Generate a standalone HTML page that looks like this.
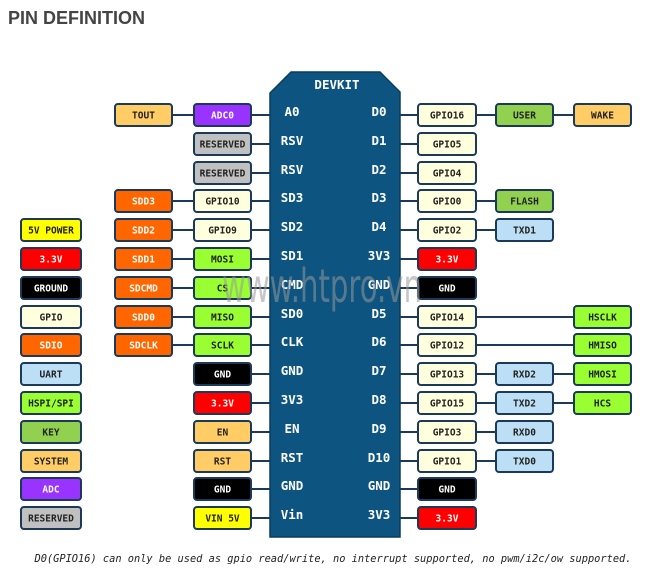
<!DOCTYPE html>
<html><head><meta charset="utf-8"><style>
html,body{margin:0;padding:0;background:#fff;width:653px;height:580px;overflow:hidden}
svg{display:block}
.b{stroke:#1b3a5a;stroke-width:2}
.t{font-family:"DejaVu Sans Mono","Liberation Mono",monospace;font-weight:bold;font-size:9.5px;text-anchor:middle;fill:#222}
.w{fill:#fff}
.p{font-family:"DejaVu Sans Mono","Liberation Mono",monospace;font-weight:bold;font-size:12.5px;text-anchor:middle;fill:#fff}
.l{stroke:#1b3a5a;stroke-width:2}
</style></head><body>
<svg width="653" height="580" viewBox="0 0 653 580" xmlns="http://www.w3.org/2000/svg">
<text x="8" y="24" font-family="Liberation Sans, sans-serif" font-weight="bold" font-size="18" fill="#444">PIN DEFINITION</text>
<polygon points="270,93 291,72 380,72 400,92 400,537 270,537" fill="#0d5580" stroke="#0a3d5e" stroke-width="1.5"/>
<text x="337" y="89" class="p" font-size="11">DEVKIT</text>

<!-- left connector lines -->
<g class="l">
<line x1="251" y1="115" x2="270" y2="115"/><line x1="172" y1="115" x2="194" y2="115"/>
<line x1="251" y1="144" x2="270" y2="144"/>
<line x1="251" y1="173" x2="270" y2="173"/>
<line x1="251" y1="201" x2="270" y2="201"/><line x1="172" y1="201" x2="194" y2="201"/>
<line x1="251" y1="230" x2="270" y2="230"/><line x1="172" y1="230" x2="194" y2="230"/>
<line x1="251" y1="259" x2="270" y2="259"/><line x1="172" y1="259" x2="194" y2="259"/>
<line x1="251" y1="288" x2="270" y2="288"/><line x1="172" y1="288" x2="194" y2="288"/>
<line x1="251" y1="317" x2="270" y2="317"/><line x1="172" y1="317" x2="194" y2="317"/>
<line x1="251" y1="345" x2="270" y2="345"/><line x1="172" y1="345" x2="194" y2="345"/>
<line x1="251" y1="374" x2="270" y2="374"/>
<line x1="251" y1="403" x2="270" y2="403"/>
<line x1="251" y1="432" x2="270" y2="432"/>
<line x1="251" y1="461" x2="270" y2="461"/>
<line x1="251" y1="489" x2="270" y2="489"/>
<line x1="251" y1="518" x2="270" y2="518"/>
<!-- right -->
<line x1="400" y1="115" x2="418" y2="115"/><line x1="476" y1="115" x2="574" y2="115"/>
<line x1="400" y1="144" x2="418" y2="144"/>
<line x1="400" y1="173" x2="418" y2="173"/>
<line x1="400" y1="201" x2="418" y2="201"/><line x1="476" y1="201" x2="496" y2="201"/>
<line x1="400" y1="230" x2="418" y2="230"/><line x1="476" y1="230" x2="496" y2="230"/>
<line x1="400" y1="259" x2="418" y2="259"/>
<line x1="400" y1="288" x2="418" y2="288"/>
<line x1="400" y1="317" x2="418" y2="317"/><line x1="476" y1="317" x2="574" y2="317"/>
<line x1="400" y1="345" x2="418" y2="345"/><line x1="476" y1="345" x2="574" y2="345"/>
<line x1="400" y1="374" x2="418" y2="374"/><line x1="476" y1="374" x2="574" y2="374"/>
<line x1="400" y1="403" x2="418" y2="403"/><line x1="476" y1="403" x2="574" y2="403"/>
<line x1="400" y1="432" x2="418" y2="432"/><line x1="476" y1="432" x2="496" y2="432"/>
<line x1="400" y1="461" x2="418" y2="461"/><line x1="476" y1="461" x2="496" y2="461"/>
<line x1="400" y1="489" x2="418" y2="489"/>
<line x1="400" y1="518" x2="418" y2="518"/>
</g>

<!-- board pin labels -->
<g class="p">
<text x="292" y="116">A0</text><text x="379" y="116">D0</text>
<text x="292" y="145">RSV</text><text x="379" y="145">D1</text>
<text x="292" y="174">RSV</text><text x="379" y="174">D2</text>
<text x="292" y="202">SD3</text><text x="379" y="202">D3</text>
<text x="292" y="231">SD2</text><text x="379" y="231">D4</text>
<text x="292" y="260">SD1</text><text x="379" y="260">3V3</text>
<text x="292" y="289">CMD</text><text x="379" y="289">GND</text>
<text x="292" y="318">SD0</text><text x="379" y="318">D5</text>
<text x="292" y="346">CLK</text><text x="379" y="346">D6</text>
<text x="292" y="375">GND</text><text x="379" y="375">D7</text>
<text x="292" y="404">3V3</text><text x="379" y="404">D8</text>
<text x="292" y="433">EN</text><text x="379" y="433">D9</text>
<text x="292" y="462">RST</text><text x="379" y="462">D10</text>
<text x="292" y="490">GND</text><text x="379" y="490">GND</text>
<text x="292" y="519">Vin</text><text x="379" y="519">3V3</text>
</g>

<!-- boxes: helper pattern rect(x, yc-11, 57, 22) -->
<g class="b">
<!-- legend x=21 -->
<rect x="21" y="219" width="60" height="22" rx="3" fill="#ffff00"/>
<rect x="21" y="248" width="60" height="22" rx="3" fill="#ff0000"/>
<rect x="21" y="277" width="60" height="22" rx="3" fill="#000"/>
<rect x="21" y="306" width="60" height="22" rx="3" fill="#ffffdd"/>
<rect x="21" y="334" width="60" height="22" rx="3" fill="#ff6600"/>
<rect x="21" y="363" width="60" height="22" rx="3" fill="#bcdff5"/>
<rect x="21" y="392" width="60" height="22" rx="3" fill="#99ff33"/>
<rect x="21" y="421" width="60" height="22" rx="3" fill="#92d050"/>
<rect x="21" y="450" width="60" height="22" rx="3" fill="#ffcc66"/>
<rect x="21" y="478" width="60" height="22" rx="3" fill="#9933ff"/>
<rect x="21" y="507" width="60" height="22" rx="3" fill="#c0c0c0"/>
<!-- col A x=115 -->
<rect x="115" y="104" width="57" height="22" rx="3" fill="#ffcc66"/>
<rect x="115" y="190" width="57" height="22" rx="3" fill="#ff6600"/>
<rect x="115" y="219" width="57" height="22" rx="3" fill="#ff6600"/>
<rect x="115" y="248" width="57" height="22" rx="3" fill="#ff6600"/>
<rect x="115" y="277" width="57" height="22" rx="3" fill="#ff6600"/>
<rect x="115" y="306" width="57" height="22" rx="3" fill="#ff6600"/>
<rect x="115" y="334" width="57" height="22" rx="3" fill="#ff6600"/>
<!-- col B x=194 -->
<rect x="194" y="104" width="57" height="22" rx="3" fill="#9933ff"/>
<rect x="194" y="133" width="57" height="22" rx="3" fill="#c0c0c0"/>
<rect x="194" y="162" width="57" height="22" rx="3" fill="#c0c0c0"/>
<rect x="194" y="190" width="57" height="22" rx="3" fill="#ffffdd"/>
<rect x="194" y="219" width="57" height="22" rx="3" fill="#ffffdd"/>
<rect x="194" y="248" width="57" height="22" rx="3" fill="#99ff33"/>
<rect x="194" y="277" width="57" height="22" rx="3" fill="#99ff33"/>
<rect x="194" y="306" width="57" height="22" rx="3" fill="#99ff33"/>
<rect x="194" y="334" width="57" height="22" rx="3" fill="#99ff33"/>
<rect x="194" y="363" width="57" height="22" rx="3" fill="#000"/>
<rect x="194" y="392" width="57" height="22" rx="3" fill="#ff0000"/>
<rect x="194" y="421" width="57" height="22" rx="3" fill="#ffcc66"/>
<rect x="194" y="450" width="57" height="22" rx="3" fill="#ffcc66"/>
<rect x="194" y="478" width="57" height="22" rx="3" fill="#000"/>
<rect x="194" y="507" width="57" height="22" rx="3" fill="#ffff00"/>
<!-- right col1 x=418 -->
<rect x="418" y="104" width="58" height="22" rx="3" fill="#ffffdd"/>
<rect x="418" y="133" width="58" height="22" rx="3" fill="#ffffdd"/>
<rect x="418" y="162" width="58" height="22" rx="3" fill="#ffffdd"/>
<rect x="418" y="190" width="58" height="22" rx="3" fill="#ffffdd"/>
<rect x="418" y="219" width="58" height="22" rx="3" fill="#ffffdd"/>
<rect x="418" y="248" width="58" height="22" rx="3" fill="#ff0000"/>
<rect x="418" y="277" width="58" height="22" rx="3" fill="#000"/>
<rect x="418" y="306" width="58" height="22" rx="3" fill="#ffffdd"/>
<rect x="418" y="334" width="58" height="22" rx="3" fill="#ffffdd"/>
<rect x="418" y="363" width="58" height="22" rx="3" fill="#ffffdd"/>
<rect x="418" y="392" width="58" height="22" rx="3" fill="#ffffdd"/>
<rect x="418" y="421" width="58" height="22" rx="3" fill="#ffffdd"/>
<rect x="418" y="450" width="58" height="22" rx="3" fill="#ffffdd"/>
<rect x="418" y="478" width="58" height="22" rx="3" fill="#000"/>
<rect x="418" y="507" width="58" height="22" rx="3" fill="#ff0000"/>
<!-- col2 x=496 -->
<rect x="496" y="104" width="57" height="22" rx="3" fill="#92d050"/>
<rect x="496" y="190" width="57" height="22" rx="3" fill="#92d050"/>
<rect x="496" y="219" width="57" height="22" rx="3" fill="#bcdff5"/>
<rect x="496" y="363" width="57" height="22" rx="3" fill="#bcdff5"/>
<rect x="496" y="392" width="57" height="22" rx="3" fill="#bcdff5"/>
<rect x="496" y="421" width="57" height="22" rx="3" fill="#bcdff5"/>
<rect x="496" y="450" width="57" height="22" rx="3" fill="#bcdff5"/>
<!-- col3 x=574 -->
<rect x="574" y="104" width="57" height="22" rx="3" fill="#ffcc66"/>
<rect x="574" y="306" width="57" height="22" rx="3" fill="#99ff33"/>
<rect x="574" y="334" width="57" height="22" rx="3" fill="#99ff33"/>
<rect x="574" y="363" width="57" height="22" rx="3" fill="#99ff33"/>
<rect x="574" y="392" width="57" height="22" rx="3" fill="#99ff33"/>
</g>

<g class="t">
<text x="51" y="233.5">5V POWER</text>
<text x="51" y="262.5" class="w">3.3V</text>
<text x="51" y="291.5" class="w">GROUND</text>
<text x="51" y="320.5">GPIO</text>
<text x="51" y="348.5" class="w">SDIO</text>
<text x="51" y="377.5">UART</text>
<text x="51" y="406.5">HSPI/SPI</text>
<text x="51" y="435.5">KEY</text>
<text x="51" y="464.5">SYSTEM</text>
<text x="51" y="492.5" class="w">ADC</text>
<text x="51" y="521.5">RESERVED</text>

<text x="143.5" y="118.5">TOUT</text>
<text x="143.5" y="204.5" class="w">SDD3</text>
<text x="143.5" y="233.5" class="w">SDD2</text>
<text x="143.5" y="262.5" class="w">SDD1</text>
<text x="143.5" y="291.5" class="w">SDCMD</text>
<text x="143.5" y="320.5" class="w">SDD0</text>
<text x="143.5" y="348.5" class="w">SDCLK</text>

<text x="222.5" y="118.5" class="w">ADC0</text>
<text x="222.5" y="147.5">RESERVED</text>
<text x="222.5" y="176.5">RESERVED</text>
<text x="222.5" y="204.5">GPIO10</text>
<text x="222.5" y="233.5">GPIO9</text>
<text x="222.5" y="262.5">MOSI</text>
<text x="222.5" y="291.5">CS</text>
<text x="222.5" y="320.5">MISO</text>
<text x="222.5" y="348.5">SCLK</text>
<text x="222.5" y="377.5" class="w">GND</text>
<text x="222.5" y="406.5" class="w">3.3V</text>
<text x="222.5" y="435.5">EN</text>
<text x="222.5" y="464.5">RST</text>
<text x="222.5" y="492.5" class="w">GND</text>
<text x="222.5" y="521.5">VIN 5V</text>

<text x="447" y="118.5">GPIO16</text>
<text x="447" y="147.5">GPIO5</text>
<text x="447" y="176.5">GPIO4</text>
<text x="447" y="204.5">GPIO0</text>
<text x="447" y="233.5">GPIO2</text>
<text x="447" y="262.5" class="w">3.3V</text>
<text x="447" y="291.5" class="w">GND</text>
<text x="447" y="320.5">GPIO14</text>
<text x="447" y="348.5">GPIO12</text>
<text x="447" y="377.5">GPIO13</text>
<text x="447" y="406.5">GPIO15</text>
<text x="447" y="435.5">GPIO3</text>
<text x="447" y="464.5">GPIO1</text>
<text x="447" y="492.5" class="w">GND</text>
<text x="447" y="521.5" class="w">3.3V</text>

<text x="524.5" y="118.5">USER</text>
<text x="524.5" y="204.5">FLASH</text>
<text x="524.5" y="233.5">TXD1</text>
<text x="524.5" y="377.5">RXD2</text>
<text x="524.5" y="406.5">TXD2</text>
<text x="524.5" y="435.5">RXD0</text>
<text x="524.5" y="464.5">TXD0</text>

<text x="602.5" y="118.5">WAKE</text>
<text x="602.5" y="320.5">HSCLK</text>
<text x="602.5" y="348.5">HMISO</text>
<text x="602.5" y="377.5">HMOSI</text>
<text x="602.5" y="406.5">HCS</text>
</g>

<text x="222" y="302" font-family="DejaVu Sans, sans-serif" font-size="46" fill="#999" fill-opacity="0.55" textLength="200" lengthAdjust="spacingAndGlyphs">www.htpro.vn</text>

<text x="333" y="562" font-family="DejaVu Sans Mono, Liberation Mono, monospace" font-style="italic" font-size="10.5" text-anchor="middle" fill="#222" textLength="597" lengthAdjust="spacingAndGlyphs">D0(GPIO16) can only be used as gpio read/write, no interrupt supported, no pwm/i2c/ow supported.</text>
</svg>
</body></html>
